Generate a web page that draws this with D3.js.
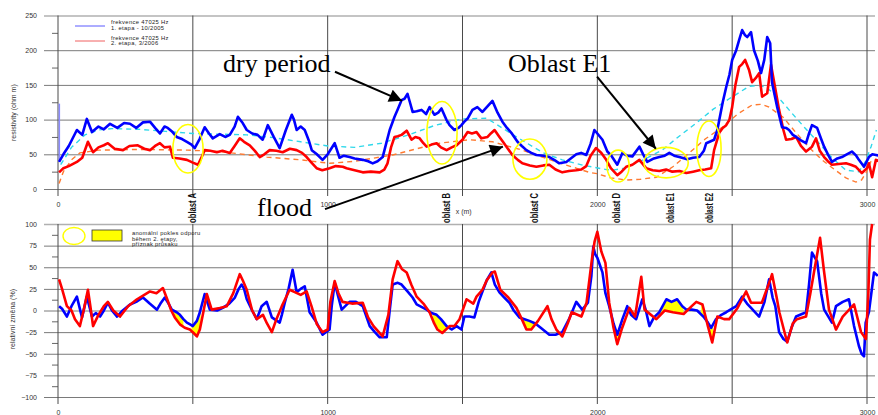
<!DOCTYPE html>
<html>
<head>
<meta charset="utf-8">
<script src="https://cdn.jsdelivr.net/npm/d3@7"></script>
<style>
  body { margin: 0; background: #fff; }
  svg { display: block; font-family: "Liberation Sans", Arial, sans-serif; }
</style>
</head>
<body>
<div id="chart"></div>
<script>
// resistivity profile: two survey stages + relative change below

// top panel: resistivity (ohm m) vs x (m)
const stage1 = [[4,39],[20,50],[40,62],[70,85],[90,78],[107,101],[126,82],[150,90],[170,86],[193,94],[220,88],[245,95],[267,94],[290,88],[315,96],[341,97],[360,88],[378,80],[395,90],[407,88],[425,82],[440,75],[460,72],[478,68],[495,64],[507,59],[525,72],[544,89],[560,80],[574,73],[600,79],[620,75],[637,78],[655,90],[667,104],[685,95],[700,85],[720,80],[740,78],[759,71],[778,92],[800,75],[822,59],[845,85],[867,107],[875,100],[885,85],[900,90],[915,85],[930,70],[941,56],[960,50],[981,42],[1000,50],[1026,66],[1044,45],[1060,48],[1081,46],[1100,44],[1130,42],[1150,40],[1167,37],[1185,40],[1204,46],[1220,70],[1230,85],[1248,104],[1260,115],[1274,128],[1285,130],[1296,137],[1305,125],[1315,111],[1330,112],[1348,114],[1365,108],[1378,118],[1396,107],[1410,110],[1422,116],[1440,100],[1452,92],[1470,85],[1485,88],[1496,92],[1507,97],[1520,102],[1537,114],[1555,118],[1574,111],[1590,118],[1611,127],[1630,110],[1648,97],[1665,88],[1681,81],[1704,68],[1720,62],[1737,56],[1755,52],[1774,49],[1800,48],[1822,46],[1840,42],[1859,37],[1885,39],[1905,45],[1922,50],[1940,52],[1959,49],[1975,65],[1989,85],[2000,80],[2019,71],[2037,54],[2052,48],[2074,35],[2093,52],[2110,48],[2130,47],[2156,61],[2170,50],[2185,39],[2210,44],[2230,46],[2250,48],[2267,52],[2285,48],[2304,46],[2333,43],[2355,45],[2378,46],[2395,55],[2404,66],[2433,71],[2445,85],[2452,99],[2465,125],[2478,147],[2490,165],[2500,186],[2515,200],[2526,215],[2537,229],[2547,222],[2556,219],[2570,226],[2581,200],[2595,185],[2607,167],[2619,186],[2630,219],[2641,210],[2648,153],[2667,118],[2685,89],[2700,88],[2711,85],[2725,78],[2737,75],[2755,70],[2774,66],[2785,80],[2796,92],[2815,88],[2830,72],[2841,61],[2855,50],[2870,39],[2890,44],[2907,46],[2925,50],[2944,54],[2960,48],[2970,42],[2989,32],[3007,46],[3020,50],[3033,49],[3045,48]];
const stage1Start = [[5,123],[5,40]];
const stage2 = [[4,24],[20,30],[40,33],[70,39],[90,45],[111,68],[130,53],[150,60],[170,63],[185,66],[210,58],[241,56],[265,62],[296,63],[320,58],[341,56],[360,62],[378,66],[395,60],[415,61],[426,45],[450,44],[478,42],[500,38],[519,35],[535,48],[544,56],[565,55],[589,53],[610,55],[637,52],[655,62],[674,73],[690,68],[711,63],[730,55],[748,46],[765,50],[785,56],[810,55],[833,53],[860,58],[885,56],[905,52],[922,46],[940,38],[959,30],[980,27],[1007,30],[1030,33],[1056,32],[1070,30],[1100,27],[1130,24],[1160,25],[1193,24],[1210,28],[1222,37],[1235,60],[1248,75],[1260,76],[1274,78],[1293,84],[1311,71],[1325,75],[1341,73],[1355,66],[1367,61],[1385,64],[1404,66],[1420,60],[1441,56],[1460,60],[1478,63],[1500,71],[1519,82],[1535,80],[1552,82],[1570,73],[1593,75],[1605,80],[1619,85],[1637,75],[1650,68],[1663,61],[1685,49],[1705,42],[1722,37],[1750,34],[1774,32],[1800,34],[1822,35],[1845,28],[1870,24],[1895,26],[1922,27],[1940,28],[1959,33],[1975,48],[1995,59],[2015,52],[2033,42],[2050,30],[2074,20],[2090,25],[2107,32],[2130,35],[2156,42],[2181,30],[2205,27],[2230,26],[2255,28],[2278,25],[2305,26],[2330,23],[2355,25],[2378,27],[2400,28],[2422,30],[2433,56],[2452,81],[2465,88],[2478,92],[2490,100],[2500,118],[2512,150],[2526,176],[2537,180],[2548,186],[2563,171],[2574,154],[2588,160],[2600,167],[2611,133],[2630,138],[2644,179],[2656,153],[2674,114],[2690,85],[2700,71],[2720,72],[2737,75],[2755,62],[2774,54],[2796,61],[2811,73],[2825,55],[2841,46],[2855,40],[2870,35],[2895,36],[2922,37],[2940,35],[2959,32],[2981,23],[3000,30],[3007,37],[3019,17],[3033,42],[3045,40]];
const trend1 = [[10,35],[50,60],[100,78],[150,85],[200,87],[300,86],[400,83],[500,80],[600,79],[700,78],[800,74],[900,68],[1000,62],[1100,60],[1200,66],[1300,78],[1400,92],[1500,101],[1590,102],[1700,75],[1800,52],[1870,42],[1950,34],[2033,28],[2056,27],[2100,30],[2170,42],[2241,56],[2300,75],[2367,95],[2430,115],[2489,130],[2563,148],[2600,149],[2626,147],[2680,128],[2722,109],[2770,88],[2822,66],[2870,45],[2922,27],[2970,25],[2995,40],[3015,61],[3035,85]];
const trend2 = [[4,8],[20,25],[50,42],[81,52],[150,56],[300,57],[480,56],[600,54],[774,46],[900,42],[1007,37],[1100,40],[1241,49],[1330,58],[1415,66],[1526,71],[1611,68],[1722,56],[1848,39],[1970,24],[2000,22],[2050,16],[2107,13],[2160,14],[2219,17],[2280,32],[2341,52],[2400,72],[2463,89],[2520,108],[2574,121],[2610,122],[2637,118],[2690,103],[2737,81],[2790,58],[2833,42],[2880,28],[2922,16],[2959,10],[2980,13],[2996,23],[3015,40]];

// bottom panel: relative change (%)
const rel1 = [[4,5],[15,2],[33,-7],[50,5],[70,16],[89,-8],[107,16],[126,-7],[140,-3],[156,-7],[170,0],[185,9],[200,0],[219,-7],[240,0],[267,7],[290,10],[315,15],[340,8],[367,1],[380,8],[396,15],[410,8],[422,1],[440,-2],[452,-5],[465,-10],[478,-14],[490,-16],[500,-18],[515,-12],[526,-2],[544,19],[563,1],[590,0],[611,3],[635,8],[656,15],[670,25],[681,30],[690,25],[700,13],[720,0],[737,-10],[755,5],[774,10],[793,-8],[822,-14],[830,-5],[841,9],[855,25],[870,47],[885,21],[900,25],[915,28],[933,-2],[959,-14],[981,-28],[1007,-22],[1015,5],[1026,32],[1040,15],[1052,1],[1081,10],[1105,10],[1130,5],[1156,-18],[1175,-25],[1193,-31],[1219,-31],[1230,0],[1241,30],[1260,32],[1274,30],[1296,22],[1315,15],[1330,7],[1367,1],[1385,-3],[1404,-5],[1420,-10],[1441,-18],[1460,-22],[1478,-18],[1496,-22],[1507,-7],[1526,-7],[1544,-8],[1560,10],[1574,22],[1590,35],[1607,44],[1620,30],[1637,21],[1655,15],[1674,9],[1690,0],[1711,-8],[1730,-10],[1748,-12],[1770,-15],[1790,-20],[1822,-28],[1845,-28],[1870,-25],[1895,-10],[1922,10],[1944,1],[1965,9],[1978,40],[1985,74],[1992,65],[2000,61],[2019,44],[2030,20],[2044,5],[2060,-15],[2074,-28],[2093,-10],[2111,5],[2125,-5],[2144,-10],[2167,13],[2180,0],[2193,-18],[2210,-8],[2230,-2],[2256,13],[2275,10],[2296,13],[2315,5],[2330,1],[2350,1],[2370,0],[2396,-8],[2410,-14],[2422,-20],[2440,-10],[2460,-5],[2478,-2],[2515,5],[2537,16],[2555,8],[2570,3],[2600,-7],[2620,10],[2637,36],[2650,15],[2660,5],[2674,-25],[2690,-33],[2704,-36],[2720,-20],[2737,-7],[2774,-2],[2785,30],[2796,67],[2805,62],[2815,57],[2830,20],[2841,1],[2870,-14],[2885,5],[2910,10],[2933,13],[2952,-18],[2970,-41],[2980,-50],[2989,-53],[2995,-14],[3007,-2],[3026,44],[3040,40]];
const rel2 = [[4,36],[15,25],[33,5],[50,0],[63,-10],[81,-18],[95,0],[111,24],[120,5],[130,-18],[150,-5],[170,5],[185,10],[205,0],[230,-7],[260,5],[293,13],[320,18],[341,22],[365,20],[389,26],[405,13],[420,0],[433,-8],[452,-16],[470,-20],[489,-22],[503,-26],[515,-30],[526,-22],[537,-5],[552,19],[570,1],[600,3],[626,5],[650,20],[674,42],[685,35],[700,24],[720,0],[737,-10],[760,-5],[775,-15],[793,-25],[810,-10],[830,5],[859,24],[880,21],[900,18],[922,22],[940,5],[960,-16],[981,-25],[1000,-22],[1010,10],[1026,34],[1040,20],[1055,10],[1090,8],[1130,9],[1150,-8],[1170,-18],[1204,-30],[1225,-5],[1241,36],[1259,57],[1275,48],[1293,44],[1310,30],[1330,16],[1355,8],[1378,-2],[1395,-15],[1407,-22],[1425,-26],[1452,-18],[1470,-18],[1489,-10],[1515,13],[1540,8],[1552,16],[1574,24],[1590,35],[1611,44],[1620,45],[1640,24],[1670,15],[1700,3],[1720,-10],[1737,-22],[1755,-22],[1780,-12],[1815,5],[1830,-10],[1848,-22],[1870,-30],[1890,-15],[1905,-2],[1941,-7],[1960,9],[1981,62],[1990,80],[2000,91],[2015,68],[2030,55],[2044,9],[2060,-20],[2074,-39],[2090,-22],[2119,3],[2140,-7],[2163,39],[2175,1],[2219,-10],[2250,0],[2280,-2],[2320,-4],[2350,5],[2367,10],[2390,7],[2410,-18],[2426,-37],[2445,-7],[2470,-10],[2489,-10],[2520,3],[2552,22],[2570,9],[2610,9],[2635,30],[2648,42],[2665,15],[2675,-2],[2704,-37],[2725,-15],[2740,-10],[2774,-7],[2790,20],[2805,47],[2826,84],[2840,47],[2859,1],[2885,-22],[2910,-7],[2952,7],[2978,-25],[2996,-33],[3005,20],[3011,82],[3019,100]];
// stretches with anomalous drop in stage 2 (yellow fill)
const anomalyRanges = [[425,465],[495,530],[1390,1440],[1720,1775],[2065,2085],[2225,2320],[2385,2430]];

// zones marked on the profile
const zones = [
  {name: "oblast A", m: 497, cx: 482, cy: 58, rx: 56, ry: 35},
  {name: "oblast B", m: 1439, cx: 1424, cy: 81, rx: 56, ry: 45},
  {name: "oblast C", m: 1765, cx: 1750, cy: 43, rx: 63, ry: 29},
  {name: "oblast D", m: 2069, cx: 2077, cy: 33, rx: 41, ry: 23},
  {name: "oblast E1", m: 2269, cx: 2255, cy: 38, rx: 82, ry: 22},
  {name: "oblast E2", m: 2414, cx: 2414, cy: 58, rx: 45, ry: 40}
];
const notes = [
  {text: "dry period", m: 612, v: 168},
  {text: "Oblast E1", m: 1669, v: 169},
  {text: "flood", m: 738, v: -39}
];
const arrows = [
  {from: [1027, 169], to: [1276, 127]},
  {from: [990, -29], to: [1650, 61]},
  {from: [1999, 162], to: [2217, 58]}
];

const topTicks = [0, 50, 100, 150, 200, 250];
const topMinor = [25, 75, 125, 175, 225];
const botTicks = [-100, -75, -50, -25, 0, 25, 50, 75, 100];
const botMinor = [-87.5, -62.5, -37.5, -12.5, 12.5, 37.5, 62.5, 87.5];
const xTicks = [0, 1000, 2000, 3000];
const xGrid = [0, 500, 1000, 1500, 2000, 2500, 3000];

const svg = d3.select("#chart")
  .append("svg")
  .attr("width", 878)
  .attr("height", 415);

const x = d3.scaleLinear().domain([0, 3000]).range([58, 867]);
const yTop = d3.scaleLinear().domain([0, 250]).range([189, 15.5]);
const yBot = d3.scaleLinear().domain([-100, 100]).range([397, 224]).clamp(true);
const gridLeft = 44, gridRight = 875;
const sans = "'Liberation Sans', Arial, sans-serif";

svg.append("defs").append("marker")
  .attr("id", "head")
  .attr("viewBox", "0 0 10 10")
  .attr("refX", 10).attr("refY", 5)
  .attr("markerWidth", 18).attr("markerHeight", 13)
  .attr("markerUnits", "userSpaceOnUse")
  .attr("orient", "auto")
  .append("path").attr("d", "M0,0L10,5L0,10z").attr("fill", "#000");

function panelGrid(y, ticks, minor, fmt) {
  const top = y.domain()[1];
  svg.append("g")
    .attr("transform", `translate(${gridLeft},0)`)
    .call(d3.axisLeft(y).tickValues(ticks).tickSize(-(gridRight - gridLeft)).tickPadding(7).tickFormat(fmt))
    .call(g => g.select(".domain").remove())
    .call(g => g.selectAll("line")
      .attr("stroke", d => d === top ? "#b0b0b0" : "#7a7a7a")
      .attr("stroke-width", d => d === top ? 1.6 : 1))
    .call(g => g.selectAll("text").attr("font-size", 7).attr("fill", "#333").style("font-family", sans));
  svg.append("g")
    .attr("transform", `translate(${x(0)},0)`)
    .call(d3.axisLeft(y).tickValues(minor).tickSize(6).tickFormat(""))
    .call(g => g.select(".domain").remove())
    .call(g => g.selectAll("line").attr("stroke", "#666"));
  const [y0, y1] = y.range();
  svg.append("g").selectAll("line")
    .data(xGrid)
    .enter().append("line")
    .attr("x1", d => x(d)).attr("x2", d => x(d))
    .attr("y1", y1).attr("y2", y0 + 7)
    .attr("stroke", "#4a4a4a").attr("stroke-width", 1);
  svg.append("g")
    .attr("transform", `translate(0,${y0})`)
    .call(d3.axisBottom(x).tickValues(xTicks).tickSize(0).tickPadding(13).tickFormat(d3.format("d")))
    .call(g => g.select(".domain").remove())
    .call(g => g.selectAll("text").attr("font-size", 7).attr("fill", "#333").style("font-family", sans));
}

panelGrid(yTop, topTicks, topMinor, d3.format("d"));
panelGrid(yBot, botTicks, botMinor, d3.format("d"));

// axis titles
svg.append("text")
  .attr("transform", `translate(16,${yTop(110)}) rotate(-90)`)
  .attr("text-anchor", "middle")
  .attr("font-size", 7).attr("fill", "#333")
  .text("resistivity (ohm m)");
svg.append("text")
  .attr("transform", `translate(15,${yBot(-10)}) rotate(-90)`)
  .attr("text-anchor", "middle")
  .attr("font-size", 7).attr("fill", "#333")
  .text("relativní změna (%)");
svg.append("text")
  .attr("x", x(1475)).attr("y", yTop(0) + 25)
  .attr("font-size", 7).attr("fill", "#333")
  .text("x (m)");

// top panel lines
const lineTop = d3.line().x(d => x(d[0])).y(d => yTop(d[1]));
svg.append("path").datum(trend1).attr("d", lineTop)
  .attr("fill", "none").attr("stroke", "#2fd8ea").attr("stroke-width", 1.4).attr("stroke-dasharray", "5,4");
svg.append("path").datum(trend2).attr("d", lineTop)
  .attr("fill", "none").attr("stroke", "#ff7a30").attr("stroke-width", 1.4).attr("stroke-dasharray", "5,4");
svg.append("path").datum(stage1Start).attr("d", lineTop)
  .attr("fill", "none").attr("stroke", "#8a8aff").attr("stroke-width", 1.5);
svg.append("path").datum(stage2).attr("d", lineTop)
  .attr("fill", "none").attr("stroke", "#ff0000").attr("stroke-width", 2.6).attr("stroke-linejoin", "round");
svg.append("path").datum(stage1).attr("d", lineTop)
  .attr("fill", "none").attr("stroke", "#0000ff").attr("stroke-width", 2.6).attr("stroke-linejoin", "round");

// yellow anomaly ellipses
svg.append("g").selectAll("ellipse")
  .data(zones)
  .enter().append("ellipse")
  .attr("cx", d => x(d.cx)).attr("cy", d => yTop(d.cy))
  .attr("rx", d => x(d.rx) - x(0)).attr("ry", d => yTop(0) - yTop(d.ry))
  .attr("fill", "none").attr("stroke", "#ffff00").attr("stroke-width", 1.6);

// zone labels
svg.append("g").selectAll("text")
  .data(zones)
  .enter().append("text")
  .attr("transform", d => `translate(${x(d.m)},${yTop(0) + 34}) rotate(-90)`)
  .attr("dy", "0.35em")
  .attr("font-size", 11).attr("font-weight", "bold").attr("fill", "#111")
  .attr("textLength", 30).attr("lengthAdjust", "spacingAndGlyphs")
  .text(d => d.name);

// annotations
svg.append("g").selectAll("line")
  .data(arrows)
  .enter().append("line")
  .attr("x1", d => x(d.from[0])).attr("y1", d => yTop(d.from[1]))
  .attr("x2", d => x(d.to[0])).attr("y2", d => yTop(d.to[1]))
  .attr("stroke", "#000").attr("stroke-width", 2)
  .attr("marker-end", "url(#head)");
svg.append("g").selectAll("text")
  .data(notes)
  .enter().append("text")
  .attr("x", d => x(d.m)).attr("y", d => yTop(d.v))
  .style("font-family", "'Liberation Serif', 'Times New Roman', serif")
  .attr("font-size", 26).attr("fill", "#000")
  .text(d => d.text);

// bottom panel: yellow fill between stages on anomaly stretches
function interp(series, m) {
  const i = d3.bisector(d => d[0]).left(series, m);
  if (i <= 0) return series[0][1];
  if (i >= series.length) return series[series.length - 1][1];
  const a = series[i - 1], b = series[i];
  return a[1] + (b[1] - a[1]) * (m - a[0]) / (b[0] - a[0]);
}
const fillArea = d3.area().x(d => x(d.m)).y0(d => yBot(d.a)).y1(d => yBot(d.b));
svg.append("g").selectAll("path")
  .data(anomalyRanges.map(r => d3.range(r[0], r[1] + 1, 2).map(m => ({m, a: interp(rel1, m), b: interp(rel2, m)}))))
  .enter().append("path")
  .attr("d", fillArea)
  .attr("fill", "#ffff00");

const lineBot = d3.line().x(d => x(d[0])).y(d => yBot(d[1]));
svg.append("path").datum(rel1).attr("d", lineBot)
  .attr("fill", "none").attr("stroke", "#0000ff").attr("stroke-width", 2.6).attr("stroke-linejoin", "round");
svg.append("path").datum(rel2).attr("d", lineBot)
  .attr("fill", "none").attr("stroke", "#ff0000").attr("stroke-width", 2.6).attr("stroke-linejoin", "round");

// legends
const legTop = svg.append("g");
legTop.append("line").attr("x1", 75).attr("x2", 105).attr("y1", 26).attr("y2", 26)
  .attr("stroke", "#5a5aff").attr("stroke-width", 1);
legTop.append("line").attr("x1", 75).attr("x2", 105).attr("y1", 41).attr("y2", 41)
  .attr("stroke", "#f06060").attr("stroke-width", 1);
[["frekvence 47025 Hz", 24], ["1. etapa - 10/2005", 29.5], ["frekvence 47025 Hz", 39.5], ["2. etapa, 3/2006", 45]]
  .forEach(([t, yy]) => legTop.append("text").attr("x", 111).attr("y", yy)
    .attr("font-size", 5.8).attr("letter-spacing", 0.35).attr("fill", "#222").text(t));

const legBot = svg.append("g");
legBot.append("ellipse").attr("cx", 74).attr("cy", 236).attr("rx", 11).attr("ry", 8.5)
  .attr("fill", "none").attr("stroke", "#ffff00").attr("stroke-width", 1.4);
legBot.append("rect").attr("x", 92).attr("y", 230).attr("width", 30).attr("height", 11)
  .attr("fill", "#ffff00").attr("stroke", "#333").attr("stroke-width", 0.8);
[["anomální pokles odporu", 235], ["během 2. etapy,", 240.5], ["příznak průsaku", 246]]
  .forEach(([t, yy]) => legBot.append("text").attr("x", 132).attr("y", yy)
    .attr("font-size", 5.8).attr("letter-spacing", 0.3).attr("fill", "#222").text(t));
</script>
</body>
</html>
